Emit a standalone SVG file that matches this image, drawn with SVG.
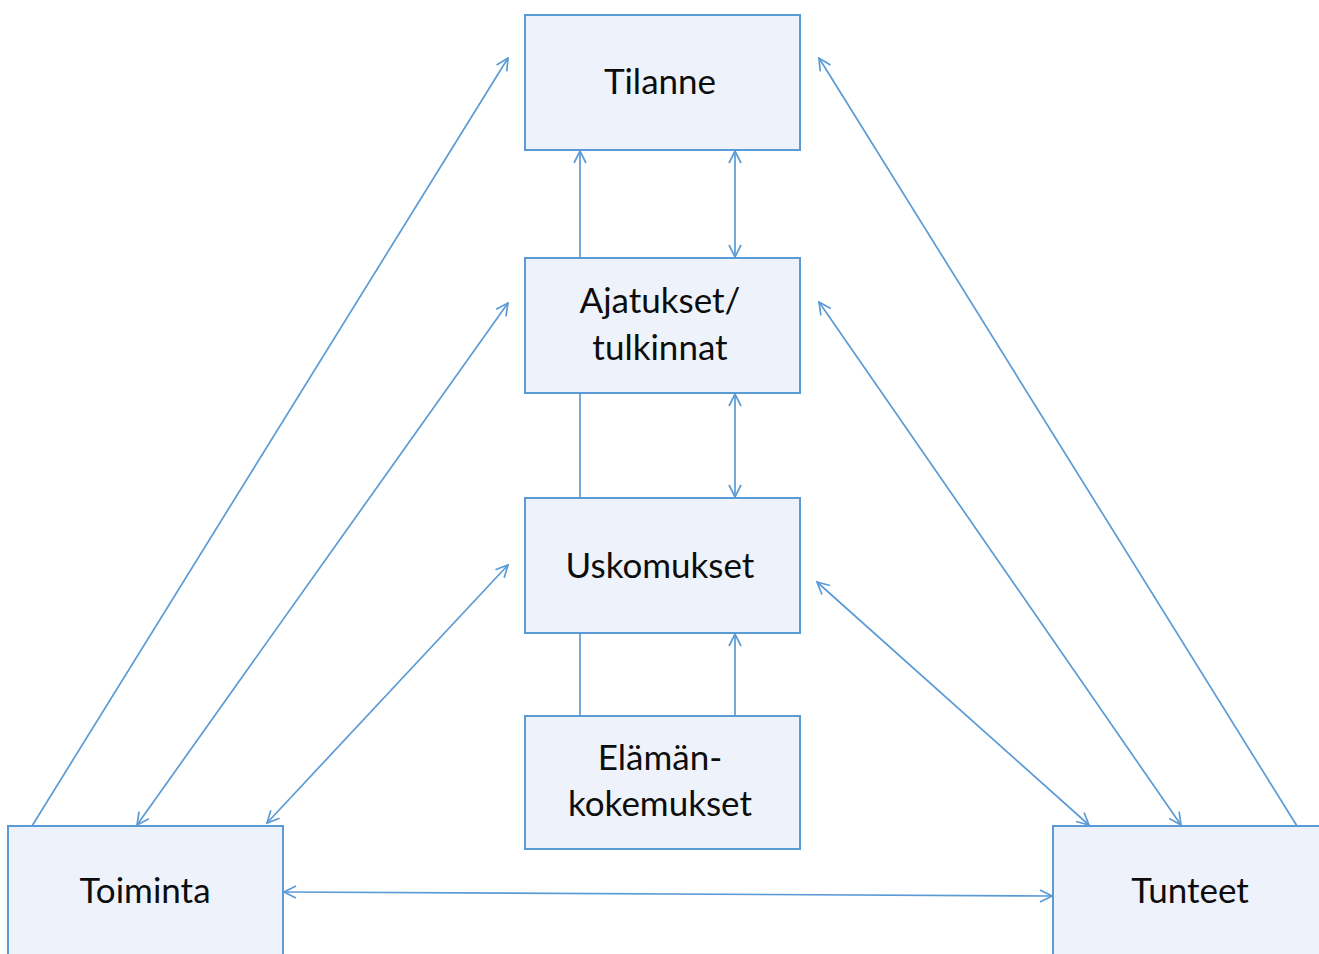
<svg xmlns="http://www.w3.org/2000/svg" width="1319" height="954" viewBox="0 0 1319 954">
<style>
.box{fill:#eef3fb;stroke:#5b9bd5;stroke-width:2}
.lbl{font-family:Lato,"Open Sans",sans-serif;font-size:35px;fill:#0d0d0d;text-anchor:middle}
.c{stroke:#5b9bd5;stroke-width:1.7;fill:none}
</style>
<defs>
<marker id="ah" viewBox="0 0 14 14" refX="13" refY="7" markerWidth="14" markerHeight="14" markerUnits="userSpaceOnUse" orient="auto-start-reverse">
<path d="M1,1 L13,7 L1,13" fill="none" stroke="#5b9bd5" stroke-width="1.7"/>
</marker>
</defs>
<rect width="1319" height="954" fill="#fff"/>
<g id="connectors">
<line class="c" x1="580" y1="258" x2="580" y2="151" marker-end="url(#ah)"/>
<line class="c" x1="735" y1="151" x2="735" y2="257" marker-start="url(#ah)" marker-end="url(#ah)"/>
<line class="c" x1="580" y1="393" x2="580" y2="498"/>
<line class="c" x1="735" y1="394" x2="735" y2="497" marker-start="url(#ah)" marker-end="url(#ah)"/>
<line class="c" x1="580" y1="634" x2="580" y2="716"/>
<line class="c" x1="735" y1="716" x2="735" y2="634" marker-end="url(#ah)"/>
<line class="c" x1="32" y1="826" x2="508" y2="58" marker-end="url(#ah)"/>
<line class="c" x1="137" y1="825" x2="508" y2="303" marker-start="url(#ah)" marker-end="url(#ah)"/>
<line class="c" x1="267" y1="823" x2="508" y2="565" marker-start="url(#ah)" marker-end="url(#ah)"/>
<line class="c" x1="1297" y1="826" x2="819" y2="58" marker-end="url(#ah)"/>
<line class="c" x1="819" y1="302" x2="1181" y2="825" marker-start="url(#ah)" marker-end="url(#ah)"/>
<line class="c" x1="817" y1="582" x2="1089" y2="825" marker-start="url(#ah)" marker-end="url(#ah)"/>
<line class="c" x1="284" y1="892" x2="1052" y2="896" marker-start="url(#ah)" marker-end="url(#ah)"/>
</g>
<g id="tilanne"><rect class="box" x="525" y="15" width="275" height="135"/><text class="lbl" x="660" y="94">Tilanne</text></g>
<g id="ajatukset"><rect class="box" x="525" y="258" width="275" height="135"/><text class="lbl" x="660" y="313">Ajatukset/</text><text class="lbl" x="660" y="360">tulkinnat</text></g>
<g id="uskomukset"><rect class="box" x="525" y="498" width="275" height="135"/><text class="lbl" x="660" y="578">Uskomukset</text></g>
<g id="elaman"><rect class="box" x="525" y="716" width="275" height="133"/><text class="lbl" x="660" y="770">Elämän-</text><text class="lbl" x="660" y="816">kokemukset</text></g>
<g id="toiminta"><rect class="box" x="8" y="826" width="275" height="140"/><text class="lbl" x="145" y="903">Toiminta</text></g>
<g id="tunteet"><rect class="box" x="1053" y="826" width="275" height="140"/><text class="lbl" x="1190" y="903">Tunteet</text></g>
</svg>
